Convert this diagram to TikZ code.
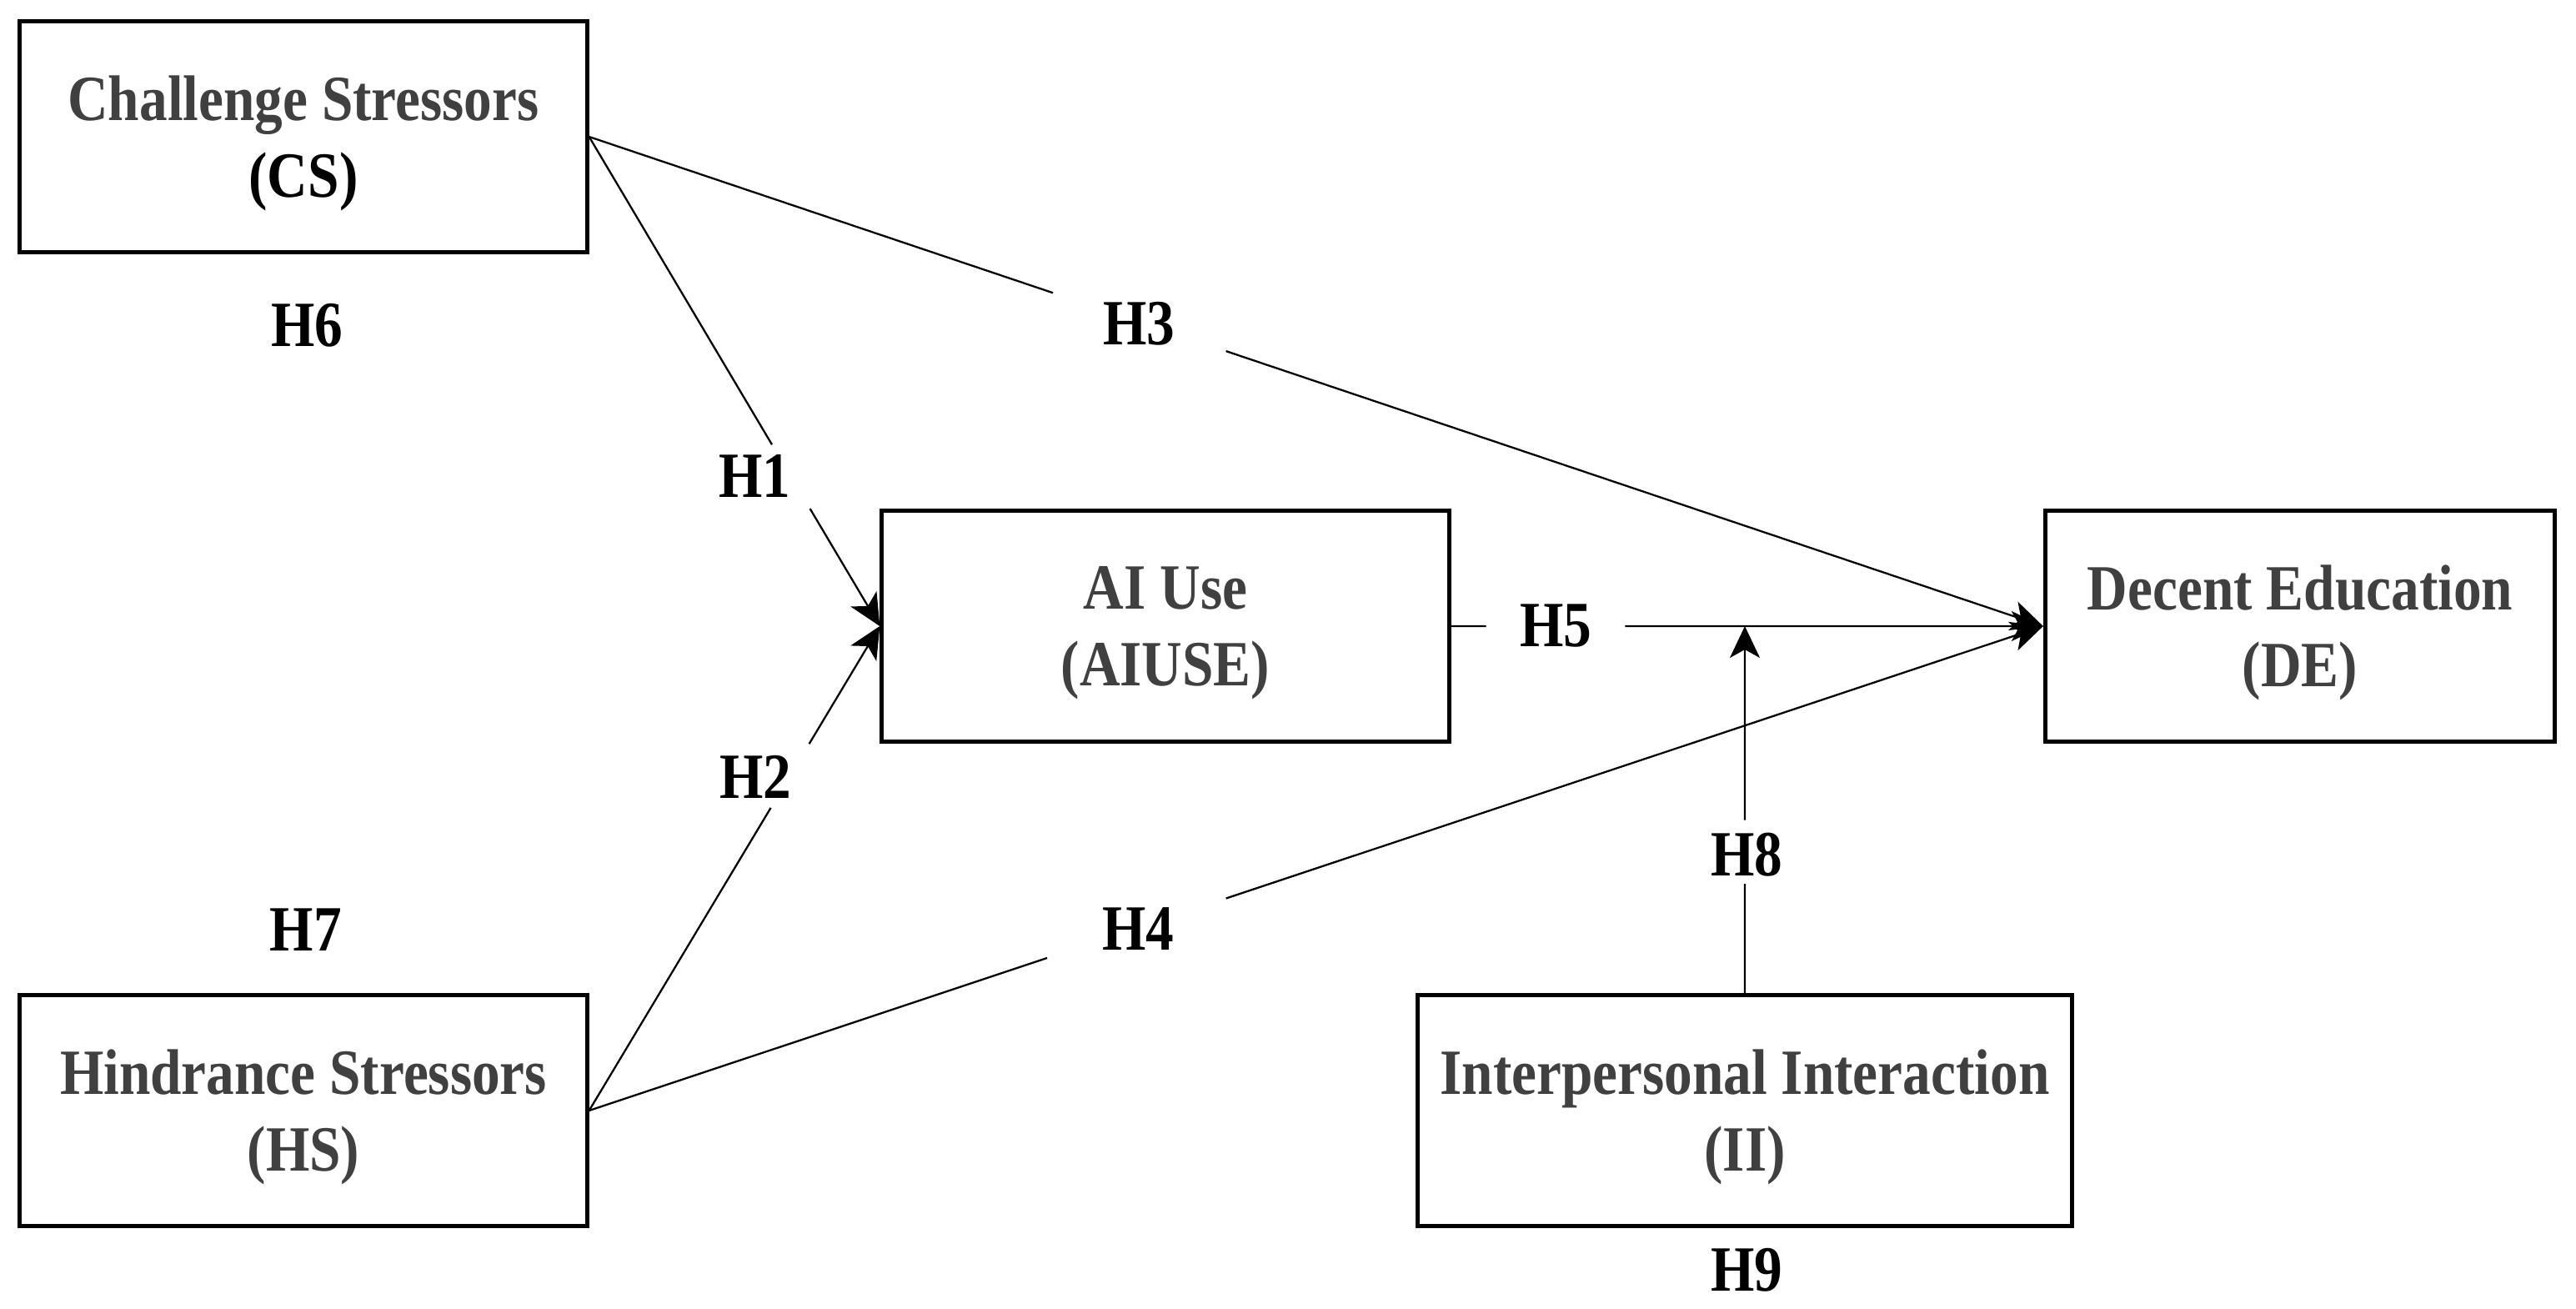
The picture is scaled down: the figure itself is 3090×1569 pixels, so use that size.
\documentclass[tikz,border=0pt]{standalone}
\usepackage{fontspec}
\setmainfont{Liberation Serif}
\newfontfamily\dfont{Liberation Serif}[FakeStretch=0.87]
\usetikzlibrary{arrows.meta,calc}
\definecolor{txtgray}{HTML}{404040}
\begin{document}
\begin{tikzpicture}[x=0.01cm,y=-0.01cm,
  box/.style={draw=black, line width=1.4pt, minimum height=2.76cm, inner sep=0pt},
  boxtext/.style={align=center, text=txtgray, inner sep=0pt,
    font=\dfont\bfseries\fontsize{22}{26}\selectfont},
  hlab/.style={font=\dfont\bfseries\fontsize{22}{26}\selectfont, text=black, inner sep=0pt},
  conn/.style={line width=0.65pt},
  arr/.style={conn, -{Stealth[length=0.38cm,width=0.36cm,inset=0.1cm]}}
]
\useasboundingbox (0,0) rectangle (3090,1569);
% boxes
\node[box, minimum width=6.8cm] (CS) at (364,164) {};
\node[box, minimum width=6.8cm] (HS) at (364,1332) {};
\node[box, minimum width=6.8cm] (AI) at (1398,751) {};
\node[box, minimum width=6.11cm] (DE) at (2759,751) {};
\node[box, minimum width=7.84cm] (II) at (2093,1332) {};
% box texts
\node[boxtext] (CSt) at ([yshift=-0.08cm]CS.center) {Challenge Stressors\\\textcolor{black}{(CS)}};
\node[boxtext] (HSt) at ([yshift=-0.08cm]HS.center) {Hindrance Stressors\\(HS)};
\node[boxtext] (AIt) at ([yshift=-0.08cm]AI.center) {AI Use\\(AIUSE)};
\node[boxtext] (DEt) at ([yshift=-0.08cm]DE.center) {Decent Education\\(DE)};
\node[boxtext] (IIt) at ([yshift=-0.08cm]II.center) {Interpersonal Interaction\\(II)};
% H1
\draw[conn] (CS.east) -- ($(CS.east)!0.629!(AI.west)$);
\draw[arr] ($(CS.east)!0.760!(AI.west)$) -- (AI.west);
\node[hlab] (H1) at (905,571) {H1};
% H2
\draw[conn] (HS.east) -- ($(HS.east)!0.625!(AI.west)$);
\draw[arr] ($(HS.east)!0.757!(AI.west)$) -- (AI.west);
\node[hlab] (H2) at (906,932) {H2};
% H3
\draw[conn] (CS.east) -- ($(CS.east)!0.319!(DE.west)$);
\draw[arr] ($(CS.east)!0.438!(DE.west)$) -- (DE.west);
\node[hlab] (H3) at (1366,388) {H3};
% H4
\draw[conn] (HS.east) -- ($(HS.east)!0.315!(DE.west)$);
\draw[arr] ($(HS.east)!0.438!(DE.west)$) -- (DE.west);
\node[hlab] (H4) at (1365,1114) {H4};
% H5
\draw[conn] (AI.east) -- ($(AI.east)!0.059!(DE.west)$);
\draw[arr] ($(AI.east)!0.294!(DE.west)$) -- (DE.west);
\node[hlab] (H5) at (1866,751) {H5};
% H8
\coordinate (M) at (II.north |- DE.west);
\draw[conn] (II.north) -- ($(II.north)!0.298!(M)$);
\draw[arr] ($(II.north)!0.472!(M)$) -- (M);
\node[hlab] (H8) at (2095,1025) {H8};
% other labels
\node[hlab] (H6) at (368,390) {H6};
\node[hlab] (H7) at (367,1115) {H7};
\node[hlab] (H9) at (2095,1523) {H9};
\end{tikzpicture}
\end{document}
